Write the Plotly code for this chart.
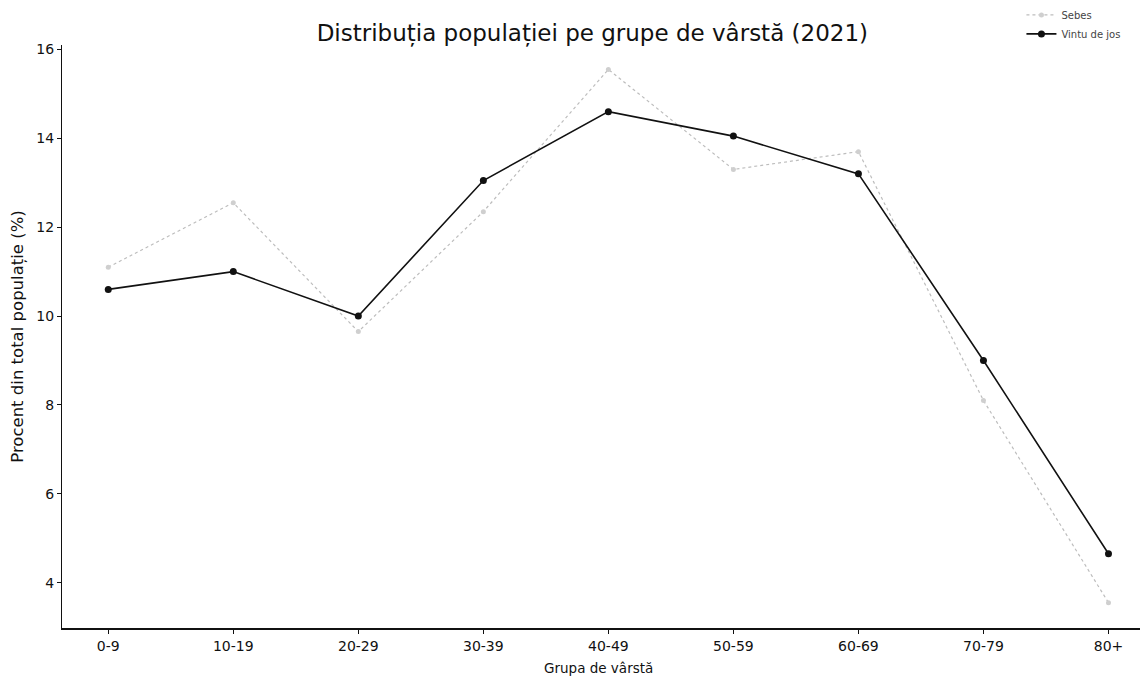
import plotly.graph_objects as go

categories = ["0-9", "10-19", "20-29", "30-39", "40-49", "50-59", "60-69", "70-79", "80+"]
sebes = [11.1, 12.55, 9.65, 12.35, 15.55, 13.3, 13.7, 8.1, 3.55]
vintu = [10.6, 11.0, 10.0, 13.05, 14.6, 14.05, 13.2, 9.0, 4.65]
y_ticks = [4, 6, 8, 10, 12, 14, 16]

FONT = "DejaVu Sans"

fig = go.Figure()
fig.add_trace(go.Scatter(
    x=list(range(len(categories))), y=sebes, name="Sebes",
    mode="lines+markers",
    line=dict(color="#bdbdbd", width=1.2, dash="dot"),
    marker=dict(symbol="circle", size=5, color="#cfcfcf"),
))
fig.add_trace(go.Scatter(
    x=list(range(len(categories))), y=vintu, name="Vintu de jos",
    mode="lines+markers",
    line=dict(color="#111111", width=1.6),
    marker=dict(symbol="circle", size=7, color="#111111"),
))

fig.update_layout(
    width=1148, height=680,
    margin=dict(l=54, r=0, t=37, b=60, autoexpand=False),
    paper_bgcolor="white", plot_bgcolor="white",
    font=dict(family=FONT, color="#111111", size=13),
    title=dict(text="Distribuția populației pe grupe de vârstă (2021)",
               x=0.509, xanchor="center", y=0.963, yanchor="middle",
               font=dict(size=23, family=FONT, color="#111111")),
    showlegend=True,
    legend=dict(x=0.877, y=1.0765, xanchor="left", yanchor="top",
                bgcolor="rgba(0,0,0,0)", font=dict(size=10, color="#444444"),
                itemwidth=30, tracegroupgap=0),
    xaxis=dict(
        tickmode="array", tickvals=list(range(len(categories))), ticktext=categories,
        range=[-0.37, 8.38], showgrid=False, zeroline=False, automargin=False,
        showline=True, linecolor="#111111", linewidth=1.5,
        ticks="outside", ticklen=4, tickcolor="#111111",
        tickfont=dict(size=14),
    ),
    yaxis=dict(
        tickmode="array", tickvals=y_ticks,
        range=[2.98, 16.1], showgrid=False, zeroline=False, automargin=False,
        showline=True, linecolor="#111111", linewidth=1.2,
        ticks="outside", ticklen=4, tickcolor="#111111",
        tickfont=dict(size=14),
        title=dict(text="Procent din total populație (%)", font=dict(size=16.5), standoff=8),
    ),
    annotations=[dict(
        text="Grupa de vârstă", xref="paper", yref="paper",
        x=0.49, y=-0.069, xanchor="center", yanchor="middle",
        showarrow=False, font=dict(size=13.5, family=FONT, color="#111111"),
    )],
)

fig.write_html("out.html")
